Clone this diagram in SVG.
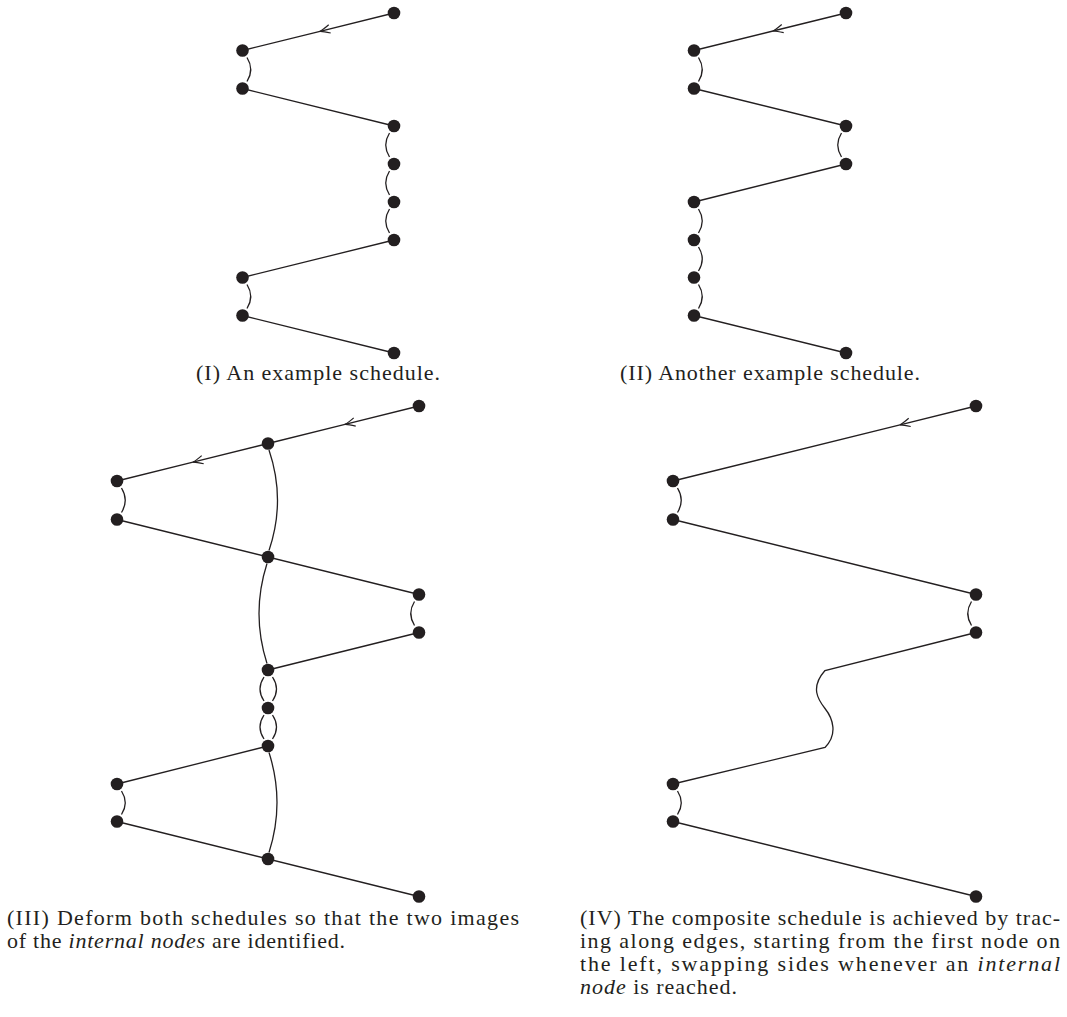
<svg xmlns="http://www.w3.org/2000/svg" width="1067" height="1017" viewBox="0 0 1067 1017">
<style>
.e{fill:none;stroke:#231f20;stroke-width:1.3}
.n{fill:#231f20}
.cap{font-family:"Liberation Serif","Times New Roman",serif;font-size:22px;fill:#231f20}
.it{font-style:italic}
</style>
<defs>
<marker id="arr" viewBox="-11 -6 13 12" markerWidth="13" markerHeight="12" refX="0" refY="0" orient="auto" markerUnits="userSpaceOnUse" overflow="visible">
<path d="M-10,-4.2 Q-3.5,-0.8 0,0 Q-3.5,0.8 -10,4.2" fill="none" stroke="#231f20" stroke-width="1.2"/>
</marker>
</defs>
<rect width="1067" height="1017" fill="#fff"/>
<g id="connectors">
<!-- Panel I -->
<path class="e" d="M394,13 L320,31.3 L242.5,50.5" marker-mid="url(#arr)"/>
<path class="e" d="M247,57.5 Q254.5,69.5 247,81.5"/>
<path class="e" d="M242.5,88.5 L394,126"/>
<path class="e" d="M389.5,133 Q382,145 389.5,157"/>
<path class="e" d="M389.5,171 Q382,183 389.5,195"/>
<path class="e" d="M389.5,209 Q382,221 389.5,233"/>
<path class="e" d="M394,240 L242.5,277.5"/>
<path class="e" d="M247,284.5 Q254.5,296.5 247,308.5"/>
<path class="e" d="M242.5,315.5 L394,353"/>
<!-- Panel II -->
<path class="e" d="M846,13 L773,31 L694,50.5" marker-mid="url(#arr)"/>
<path class="e" d="M698.5,57.5 Q706,69.5 698.5,81.5"/>
<path class="e" d="M694,88.5 L846,126"/>
<path class="e" d="M841.5,133 Q834,145 841.5,157"/>
<path class="e" d="M846,164 L694,202"/>
<path class="e" d="M698.5,209 Q706,221 698.5,233"/>
<path class="e" d="M698.5,247 Q706,259 698.5,271"/>
<path class="e" d="M698.5,284.5 Q706,296.5 698.5,308.5"/>
<path class="e" d="M694,315.5 L846,353"/>
<!-- Panel III -->
<path class="e" d="M419,406 L345,424.4 L268,443.5" marker-mid="url(#arr)"/>
<path class="e" d="M268,443.5 L193,462.1 L117,481" marker-mid="url(#arr)"/>
<path class="e" d="M121.5,488 Q129,500.25 121.5,512.5"/>
<path class="e" d="M117,519.5 L419,594.5"/>
<path class="e" d="M414.5,601.5 Q407,613.5 414.5,625.5"/>
<path class="e" d="M419,632.5 L268,670"/>
<path class="e" d="M269,450 Q286,500.25 269,550.5"/>
<path class="e" d="M267,563.5 Q251,613.5 267,663.5"/>
<path class="e" d="M264,677 Q256,689 264,701"/>
<path class="e" d="M272.5,677 Q280.5,689 272.5,701"/>
<path class="e" d="M264,715 Q256,727 264,739"/>
<path class="e" d="M272.5,715 Q280.5,727 272.5,739"/>
<path class="e" d="M268,746 L117,784"/>
<path class="e" d="M269,752.5 Q285,802.5 269,852.5"/>
<path class="e" d="M121.5,791 Q129,802.75 121.5,814.5"/>
<path class="e" d="M117,821.5 L419,896.5"/>
<!-- Panel IV -->
<path class="e" d="M976,406 L900,424.8 L673,481" marker-mid="url(#arr)"/>
<path class="e" d="M677.5,488 Q685,500.25 677.5,512.5"/>
<path class="e" d="M673,519.5 L976,594.5"/>
<path class="e" d="M971.5,601.5 Q964,613.5 971.5,625.5"/>
<path class="e" d="M976,632.5 L825,670.5 C810,687.5 818,699.5 825,708.5 C833,718.5 838,734.5 825,747.5 L673,784"/>
<path class="e" d="M677.5,791 Q685,802.75 677.5,814.5"/>
<path class="e" d="M673,821.5 L976,896.5"/>
</g>
<g id="panel-I">
<circle id="I-n1" class="n" cx="394" cy="13" r="6.3"/>
<circle id="I-n2" class="n" cx="242.5" cy="50.5" r="6.3"/>
<circle id="I-n3" class="n" cx="242.5" cy="88.5" r="6.3"/>
<circle id="I-n4" class="n" cx="394" cy="126" r="6.3"/>
<circle id="I-n5" class="n" cx="394" cy="164" r="6.3"/>
<circle id="I-n6" class="n" cx="394" cy="202" r="6.3"/>
<circle id="I-n7" class="n" cx="394" cy="240" r="6.3"/>
<circle id="I-n8" class="n" cx="242.5" cy="277.5" r="6.3"/>
<circle id="I-n9" class="n" cx="242.5" cy="315.5" r="6.3"/>
<circle id="I-n10" class="n" cx="394" cy="353" r="6.3"/>
</g>
<g id="panel-II">
<circle id="II-n1" class="n" cx="846" cy="13" r="6.3"/>
<circle id="II-n2" class="n" cx="694" cy="50.5" r="6.3"/>
<circle id="II-n3" class="n" cx="694" cy="88.5" r="6.3"/>
<circle id="II-n4" class="n" cx="846" cy="126" r="6.3"/>
<circle id="II-n5" class="n" cx="846" cy="164" r="6.3"/>
<circle id="II-n6" class="n" cx="694" cy="202" r="6.3"/>
<circle id="II-n7" class="n" cx="694" cy="240" r="6.3"/>
<circle id="II-n8" class="n" cx="694" cy="277.5" r="6.3"/>
<circle id="II-n9" class="n" cx="694" cy="315.5" r="6.3"/>
<circle id="II-n10" class="n" cx="846" cy="353" r="6.3"/>
</g>
<g id="panel-III">
<circle id="III-n1" class="n" cx="419" cy="406" r="6.3"/>
<circle id="III-n2" class="n" cx="268" cy="443.5" r="6.3"/>
<circle id="III-n3" class="n" cx="117" cy="481" r="6.3"/>
<circle id="III-n4" class="n" cx="117" cy="519.5" r="6.3"/>
<circle id="III-n5" class="n" cx="268" cy="557" r="6.3"/>
<circle id="III-n6" class="n" cx="419" cy="594.5" r="6.3"/>
<circle id="III-n7" class="n" cx="419" cy="632.5" r="6.3"/>
<circle id="III-n8" class="n" cx="268" cy="670" r="6.3"/>
<circle id="III-n9" class="n" cx="268" cy="708" r="6.3"/>
<circle id="III-n10" class="n" cx="268" cy="746" r="6.3"/>
<circle id="III-n11" class="n" cx="117" cy="784" r="6.3"/>
<circle id="III-n12" class="n" cx="117" cy="821.5" r="6.3"/>
<circle id="III-n13" class="n" cx="268" cy="859" r="6.3"/>
<circle id="III-n14" class="n" cx="419" cy="896.5" r="6.3"/>
</g>
<g id="panel-IV">
<circle id="IV-n1" class="n" cx="976" cy="406" r="6.3"/>
<circle id="IV-n2" class="n" cx="673" cy="481" r="6.3"/>
<circle id="IV-n3" class="n" cx="673" cy="519.5" r="6.3"/>
<circle id="IV-n4" class="n" cx="976" cy="594.5" r="6.3"/>
<circle id="IV-n5" class="n" cx="976" cy="632.5" r="6.3"/>
<circle id="IV-n6" class="n" cx="673" cy="784" r="6.3"/>
<circle id="IV-n7" class="n" cx="673" cy="821.5" r="6.3"/>
<circle id="IV-n8" class="n" cx="976" cy="896.5" r="6.3"/>
</g>
<g id="captions">
<text class="cap" x="196" y="380" textLength="244" lengthAdjust="spacing">(I) An example schedule.</text>
<text class="cap" x="620" y="380" textLength="300" lengthAdjust="spacing">(II) Another example schedule.</text>
<text class="cap" x="7" y="925" textLength="512" lengthAdjust="spacing">(III) Deform both schedules so that the two images</text>
<text class="cap" x="7" y="948" textLength="338" lengthAdjust="spacing">of the <tspan class="it">internal nodes</tspan> are identified.</text>
<text class="cap" x="580" y="925" textLength="480" lengthAdjust="spacing">(IV) The composite schedule is achieved by trac-</text>
<text class="cap" x="580" y="948" textLength="480" lengthAdjust="spacing">ing along edges, starting from the first node on</text>
<text class="cap" x="580" y="971" textLength="480" lengthAdjust="spacing">the left, swapping sides whenever an <tspan class="it">internal</tspan></text>
<text class="cap" x="580" y="994" textLength="157" lengthAdjust="spacing"><tspan class="it">node</tspan> is reached.</text>
</g>
</svg>
